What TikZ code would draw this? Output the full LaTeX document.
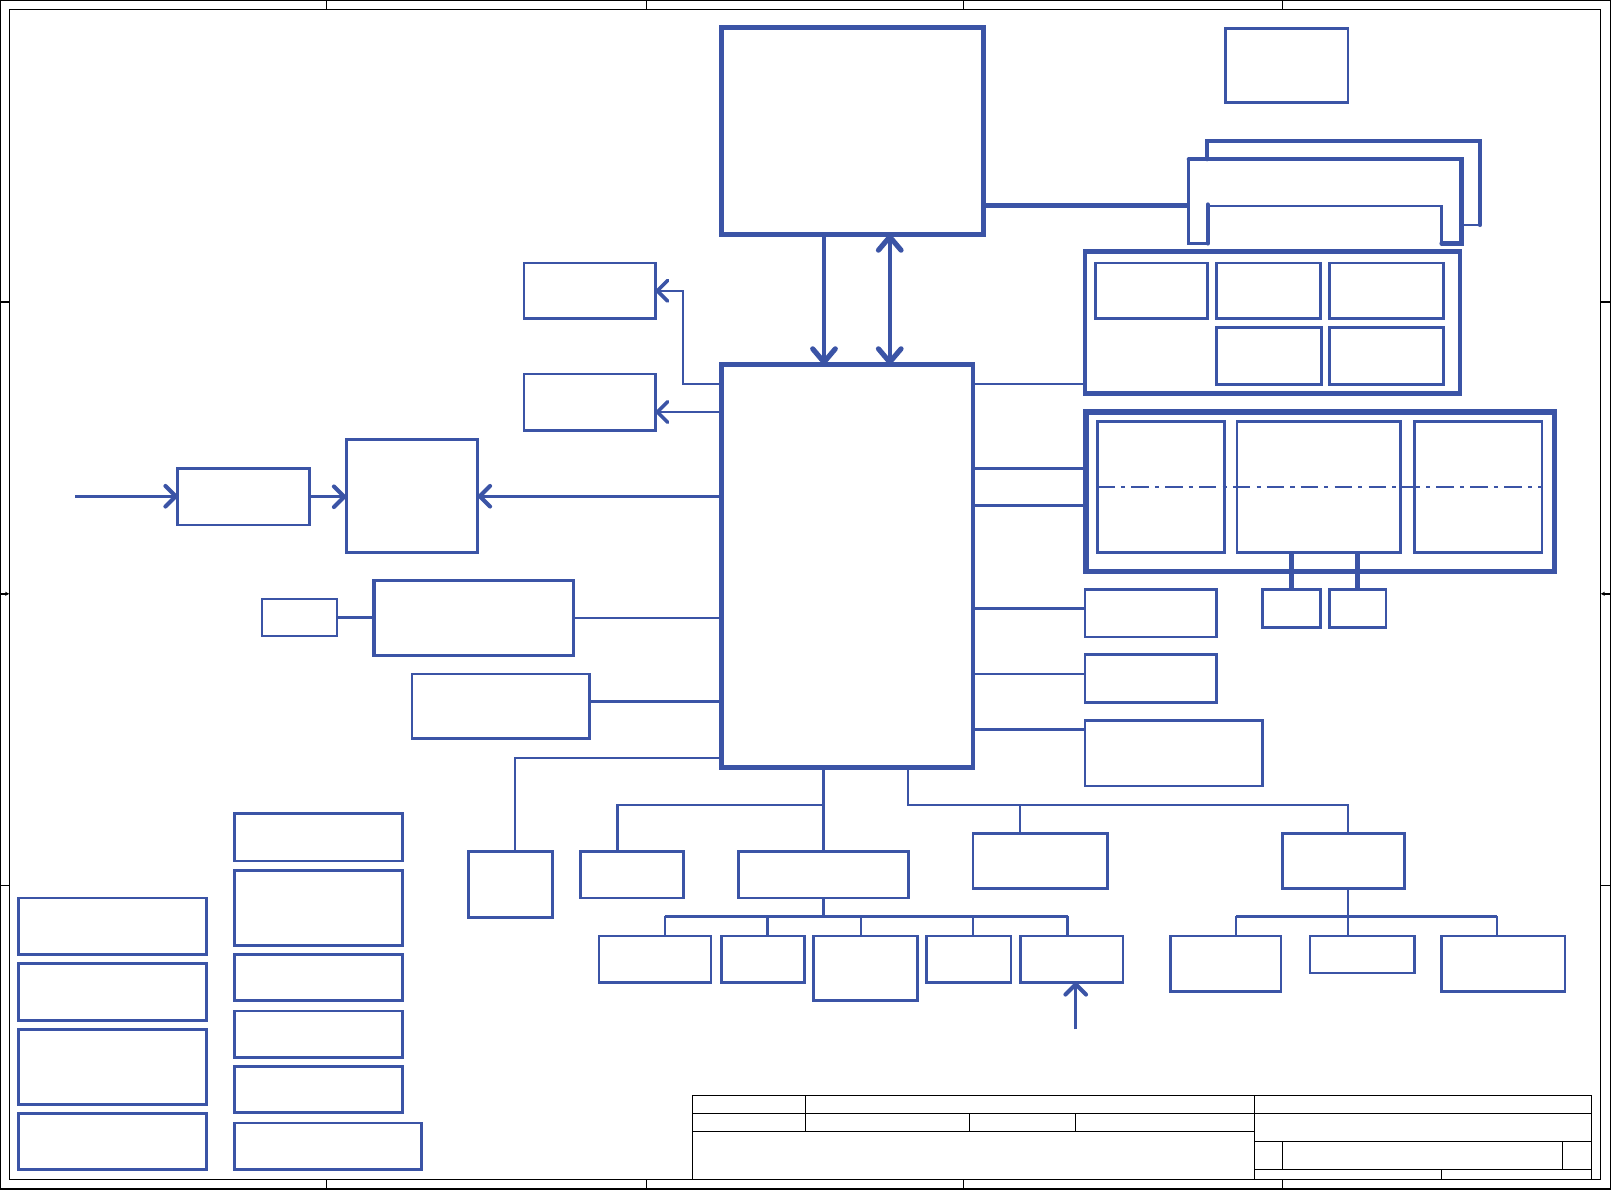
\documentclass[tikz,border=0pt]{standalone}
\usetikzlibrary{arrows.meta}
\definecolor{bl}{RGB}{59,84,166}
\newcommand\bx[6][box]{\node[#1,minimum width={(#5)-(#3)},minimum height={(#6)-(#4)}] (#2) at ({((#3)+(#5))/2},{((#4)+(#6))/2}) {};}
\tikzset{Vb/.tip={Straight Barb[length=10pt,width=20pt,line width=1.5pt 1,round]},
         Wb/.tip={Straight Barb[length=13pt,width=22pt,line width=1pt 1,round]}}
\begin{document}
\begin{tikzpicture}[x=1pt,y=-1pt,
 box/.style={draw=bl,line width=2.5pt,inner sep=0pt,outer sep=0pt},
 tbox/.style={box,line width=4.5pt},
 con/.style={draw=bl,line width=2pt},
 bar/.style={con,-Vb},
 frm/.style={draw=black,line width=1.3pt}]
\useasboundingbox (0,0) rectangle (1568,1158);
\fill[white] (0,0) rectangle (1568,1158);
% sheet frame
\draw[frm] (0.7,0.7) rectangle (1567.3,1157.3);
\draw[frm] (9,9) rectangle (1558,1148);
\foreach \x in {318,629,938,1248} {\draw[frm] (\x,0.7)--(\x,9); \draw[frm] (\x,1148)--(\x,1157.3);}
\foreach \y in {294,862} {\draw[frm] (0.7,\y)--(9,\y); \draw[frm] (1558,\y)--(1567.3,\y);}
\draw[frm,-{Stealth[length=4pt,width=4pt]}] (0.7,578)--(9,578);
\draw[frm,-{Stealth[length=4pt,width=4pt]}] (1567.3,578)--(1558,578);
% title block
\draw[frm,line width=1.2pt] (674,1066) rectangle (1549,1148);
\draw[frm,line width=1.2pt] (674,1084)--(1549,1084) (674,1101)--(1221,1101)
  (784,1066)--(784,1101) (1221,1066)--(1221,1148)
  (1221,1111)--(1549,1111) (1221,1138)--(1549,1138)
  (1248,1111)--(1248,1138) (1521,1111)--(1521,1138) (1403,1138)--(1403,1148);
\draw[frm,line width=0.8pt] (944,1084)--(944,1101) (1047,1084)--(1047,1101);
% boxes
\bx[tbox]{cpu}{702}{27}{957}{228}
\bx{clk}{1193}{28}{1312}{100}
\bx[tbox]{grpa}{1056}{245}{1421}{383}
\bx{a1}{1066}{256}{1175}{310}
\bx{a2}{1184}{256}{1285}{310}
\bx{a3}{1294}{256}{1405}{310}
\bx{a4}{1184}{319}{1286}{374}
\bx{a5}{1294}{319}{1405}{374}
\bx[tbox,line width=5pt]{grpb}{1057}{401}{1513}{556}
\bx{b1}{1068}{410}{1192}{538}
\bx{b2}{1204}{410}{1363}{538}
\bx{b3}{1377}{410}{1501}{538}
\bx{c1}{1229}{574}{1285}{611}
\bx{c2}{1294}{574}{1349}{611}
\bx{r1}{1056}{574}{1184}{620}
\bx{r2}{1056}{637}{1184}{684}
\bx{r3}{1056}{701}{1229}{765}
\bx[tbox]{pch}{702}{355}{947}{747}
\bx{l1}{510}{256}{638}{310}
\bx{l2}{510}{364}{638}{419}
\bx{l3}{337}{428}{465}{538}
\bx{l4}{173}{456}{301}{511}
\bx{l5}{255}{583}{328}{619}
\bx[box,line width=3pt]{l6}{364}{565}{558}{638}
\bx{l7}{401}{656}{574}{719}
\bx{d1}{456}{829}{538}{893}
\bx{d2}{565}{829}{665}{874}
\bx{d3}{719}{829}{884}{874}
\bx{d4}{947}{811}{1078}{865}
\bx{d5}{1248}{811}{1367}{865}
\bx{e1}{583}{911}{692}{956}
\bx{e2}{702}{911}{783}{956}
\bx{e3}{792}{911}{893}{974}
\bx{e4}{902}{911}{984}{956}
\bx{e5}{993}{911}{1093}{956}
\bx{f1}{1139}{911}{1247}{965}
\bx{f2}{1275}{911}{1377}{947}
\bx{f3}{1403}{911}{1523}{965}
\bx{g1}{228}{792}{392}{838}
\bx{g2}{228}{847}{392}{920}
\bx{g3}{228}{929}{392}{974}
\bx{g4}{228}{984}{392}{1029}
\bx{g5}{228}{1038}{392}{1083}
\bx{g6}{228}{1093}{410}{1138}
\bx{h1}{18}{874}{201}{929}
\bx{h2}{18}{938}{201}{993}
\bx{h3}{18}{1002}{201}{1075}
\bx{h4}{18}{1084}{201}{1138}
% CPU - PCH
\draw[con,line width=4pt,-Wb] (cpu.south -| 802,0) -- (pch.north -| 802,0);
\draw[con,line width=4pt,Wb-Wb] (pch.north -| 866,0) -- (cpu.south -| 866,0);
% memory bus
\coordinate (memA) at (1157,200);
\draw[con,line width=4.5pt] (cpu.east |- memA) -- (memA);
\draw[con,line width=2.5pt] (1157,155) -- (1157,237) -- (1175.5,237);
\draw[con,line width=4pt,line cap=round] (1157,155) -- (1422.5,155) -- (1422.5,237) -- (1403,237);
\draw[con,line width=2pt] (1403,237) -- (1403,200.5) -- (1178,200.5);
\draw[con,line width=4pt,line cap=round] (1175.5,199) -- (1175.5,237);
\draw[con,line width=4pt,line cap=round] (1175,155) -- (1175,137) -- (1440.5,137) -- (1440.5,219);
\draw[con,line width=2pt] (1440.5,219) -- (1423,219);
% PCH right side
\draw[con] (pch.east |- 0,374) -- (grpa.west |- 0,374);
\draw[con,line width=3pt] (pch.east |- 0,456) -- (grpb.west |- 0,456);
\draw[con,line width=3pt] (pch.east |- 0,492) -- (grpb.west |- 0,492);
\draw[con,line width=3pt] (pch.east |- 0,592) -- (r1.west |- 0,592);
\draw[con] (pch.east |- 0,656) -- (r2.west |- 0,656);
\draw[con,line width=3pt] (pch.east |- 0,710) -- (r3.west |- 0,710);
\draw[con,line width=4.5pt] (b2.south -| c1.north) -- (c1.north);
\draw[con,line width=4.5pt] (b2.south -| c2.north) -- (c2.north);
\draw[draw=bl,line width=1.2pt,dash pattern=on 17pt off 6pt on 4pt off 6pt] (b1.west |- 0,474) -- (b3.east |- 0,474);
% PCH left side
\draw[bar] (pch.west |- 0,374) -| (l1.east -| 665,0) -- (l1.east);
\draw[bar] (pch.west |- 0,401) -- (l2.east |- 0,401);
\draw[bar,line width=2.5pt] (pch.west |- l3.east) -- (l3.east);
\draw[bar,line width=2.5pt] (l4.east) -- (l3.west |- l4.east);
\coordinate (inL) at (73,483);
\draw[bar,line width=2.5pt] (inL) -- (l4.west |- inL);
\draw[con] (l5.east) -- (l6.west |- l5.east);
\draw[con] (l6.east) -- (pch.west |- l6.east);
\draw[con,line width=3pt] (l7.east |- 0,683) -- (pch.west |- 0,683);
\draw[con] (pch.west |- 0,738) -| (d1.north -| 501,0);
% PCH bottom
\draw[con] (pch.south -| d3.north) -- (d3.north);
\draw[con] (d3.north |- 0,783.5) -| (d2.north -| 601,0);
\draw[con] (pch.south -| 884,0) |- (1312,783.5) -- (d5.north -| 1312,0);
\draw[con] (993,783.5) -- (d4.north -| 993,0);
% subtree under d3
\draw[con] (d3.south) -- (d3.south |- 0,892);
\draw[con,line width=2.5pt] (647,892) -- (1039,892);
\draw[con] (647,892) -- (e1.north -| 647,0);
\draw[con] (747,892) -- (e2.north -| 747,0);
\draw[con] (838,892) -- (e3.north -| 838,0);
\draw[con] (947,892) -- (e4.north -| 947,0);
\draw[con] (1039,892) -- (e5.north -| 1039,0);
\coordinate (inE) at (1047,1002);
\draw[bar,line width=2.5pt] (inE) -- (e5.south -| inE);
% subtree under d5
\draw[con] (d5.south -| 1312,0) -- (1312,892);
\draw[con,line width=2.5pt] (1203,892) -- (1457,892);
\draw[con] (1203,892) -- (f1.north -| 1203,0);
\draw[con] (1312,892) -- (f2.north -| 1312,0);
\draw[con] (1457,892) -- (f3.north -| 1457,0);
\end{tikzpicture}
\end{document}
